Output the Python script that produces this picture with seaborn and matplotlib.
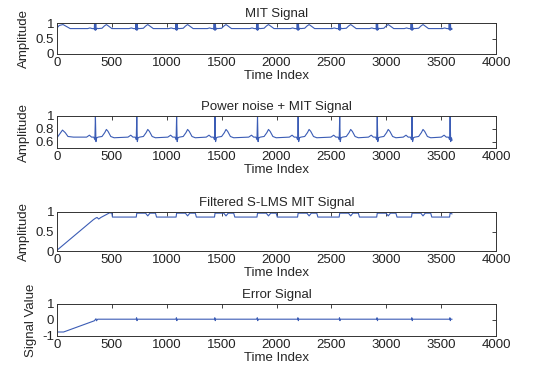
import matplotlib
matplotlib.use("Agg")
import numpy as np
import pandas as pd
import seaborn as sns
import matplotlib.pyplot as plt

# ---------------- data ----------------
beat_r = [350, 727, 1090, 1440, 1827, 2197, 2576, 2918, 3235, 3582]
x_end = 3600

# MIT signal
mit_start_x = [0, 20, 55, 90, 120]
mit_start_y = [0.84, 0.92, 0.95, 0.88, 0.82]
mit_beat_dx = [-70, -50, -30, -14, -10, -8, -6, -3, 0, 3, 6, 9, 14, 24, 60, 80, 100, 120, 150]
mit_beat_y = [0.82, 0.84, 0.82, 0.82, 0.80, 1.0, 0.78, 1.0, 0.77, 1.0, 0.78, 0.80, 0.83, 0.82, 0.83, 0.90, 0.95, 0.90, 0.82]
mit_end_y = 0.80

# Power noise + MIT signal
noisy_start_x = [0, 25, 50, 75, 100, 150]
noisy_start_y = [0.66, 0.72, 0.78, 0.74, 0.68, 0.67]
noisy_beat_dx = [-80, -55, -35, -15, -5, 0, 5, 12, 25, 60, 85, 100, 115, 140, 170]
noisy_beat_y = [0.67, 0.70, 0.67, 0.67, 0.63, 1.0, 0.60, 0.66, 0.67, 0.68, 0.74, 0.79, 0.76, 0.68, 0.66]
noisy_end_y = 0.62

# Filtered S-LMS signal
filt_start_x = [0, 330, 350, 365, 380, 400, 440, 480, 500, 505]
filt_start_y = [0.02, 0.80, 0.84, 0.86, 0.82, 0.86, 0.92, 0.98, 0.97, 0.87]
filt_beat_dx = [-5, 0, 80, 100, 120, 170, 180]
filt_beat_y = [0.87, 0.97, 0.97, 0.90, 0.97, 0.97, 0.87]
filt_end_y = 0.95

# Error signal
err_start_x = [0, 60, 80, 340, 355, 360, 370]
err_start_y = [-0.75, -0.75, -0.70, -0.05, 0.08, -0.05, 0.05]
err_beat_dx = [-6, -2, 2, 6]
err_beat_y = [0.05, 0.14, -0.04, 0.05]
err_end_y = 0.05

x_ticks = [0, 500, 1000, 1500, 2000, 2500, 3000, 3500, 4000]


def build(start_x, start_y, dx, dy, beats, end_y):
    xs, ys = list(start_x), list(start_y)
    for r in beats:
        for d, v in zip(dx, dy):
            x = r + d
            if x > xs[-1] and x <= x_end:
                xs.append(x)
                ys.append(v)
    if xs[-1] < x_end:
        xs.append(x_end)
        ys.append(end_y)
    return pd.DataFrame({"x": xs, "y": ys})


mit_df = build(mit_start_x, mit_start_y, mit_beat_dx, mit_beat_y, beat_r, mit_end_y)
noisy_df = build(noisy_start_x, noisy_start_y, noisy_beat_dx, noisy_beat_y, beat_r, noisy_end_y)
filt_df = build(filt_start_x, filt_start_y, filt_beat_dx, filt_beat_y, beat_r[1:], filt_end_y)
err_df = build(err_start_x, err_start_y, err_beat_dx, err_beat_y, beat_r[1:], err_end_y)

# ---------------- style ----------------
sns.set_style("white")
plt.rcParams["font.family"] = ["Liberation Sans", "DejaVu Sans"]
plt.rcParams["font.size"] = 9.5

line_color = "#3b5cb5"
W, H = 546, 375
fig = plt.figure(figsize=(W / 100, H / 100), dpi=100)

panels = [
    (mit_df, "MIT Signal", "Amplitude", (0, 1), [0, 0.5, 1], ["0", "0.5", "1"], 23, 54),
    (noisy_df, "Power noise + MIT Signal", "Amplitude", (0.5, 1), [0.6, 0.8, 1], ["0.6", "0.8", "1"], 116, 148),
    (filt_df, "Filtered S-LMS MIT Signal", "Amplitude", (0, 1), [0, 0.5, 1], ["0", "0.5", "1"], 212, 251),
    (err_df, "Error Signal", "Signal Value", (-1, 1), [-1, 0, 1], ["-1", "0", "1"], 304, 336),
]

left_px, right_px = 57, 496
for df, title, ylabel, ylim, yt, ytl, top, bot in panels:
    ax = fig.add_axes([left_px / W, 1 - bot / H, (right_px - left_px) / W, (bot - top) / H])
    sns.lineplot(data=df, x="x", y="y", ax=ax, color=line_color, linewidth=0.8,
                 estimator=None, sort=False)
    ax.set_xlim(0, 4000)
    ax.set_ylim(*ylim)
    ax.set_xticks(x_ticks)
    ax.set_xticklabels([str(t) for t in x_ticks])
    ax.set_yticks(yt)
    ax.set_yticklabels(ytl)
    ax.tick_params(direction="in", top=True, right=True, length=3, width=0.6,
                   labelsize=9.5, pad=2, colors="#222222")
    for s in ax.spines.values():
        s.set_color("#333333")
        s.set_linewidth(0.7)
    ax.set_title(title, fontsize=9.5, pad=4)
    ax.set_xlabel("Time Index", fontsize=9.5, labelpad=1)
    ax.set_ylabel(ylabel, fontsize=9.5, labelpad=4)

fig.savefig("out.png", dpi=100)
